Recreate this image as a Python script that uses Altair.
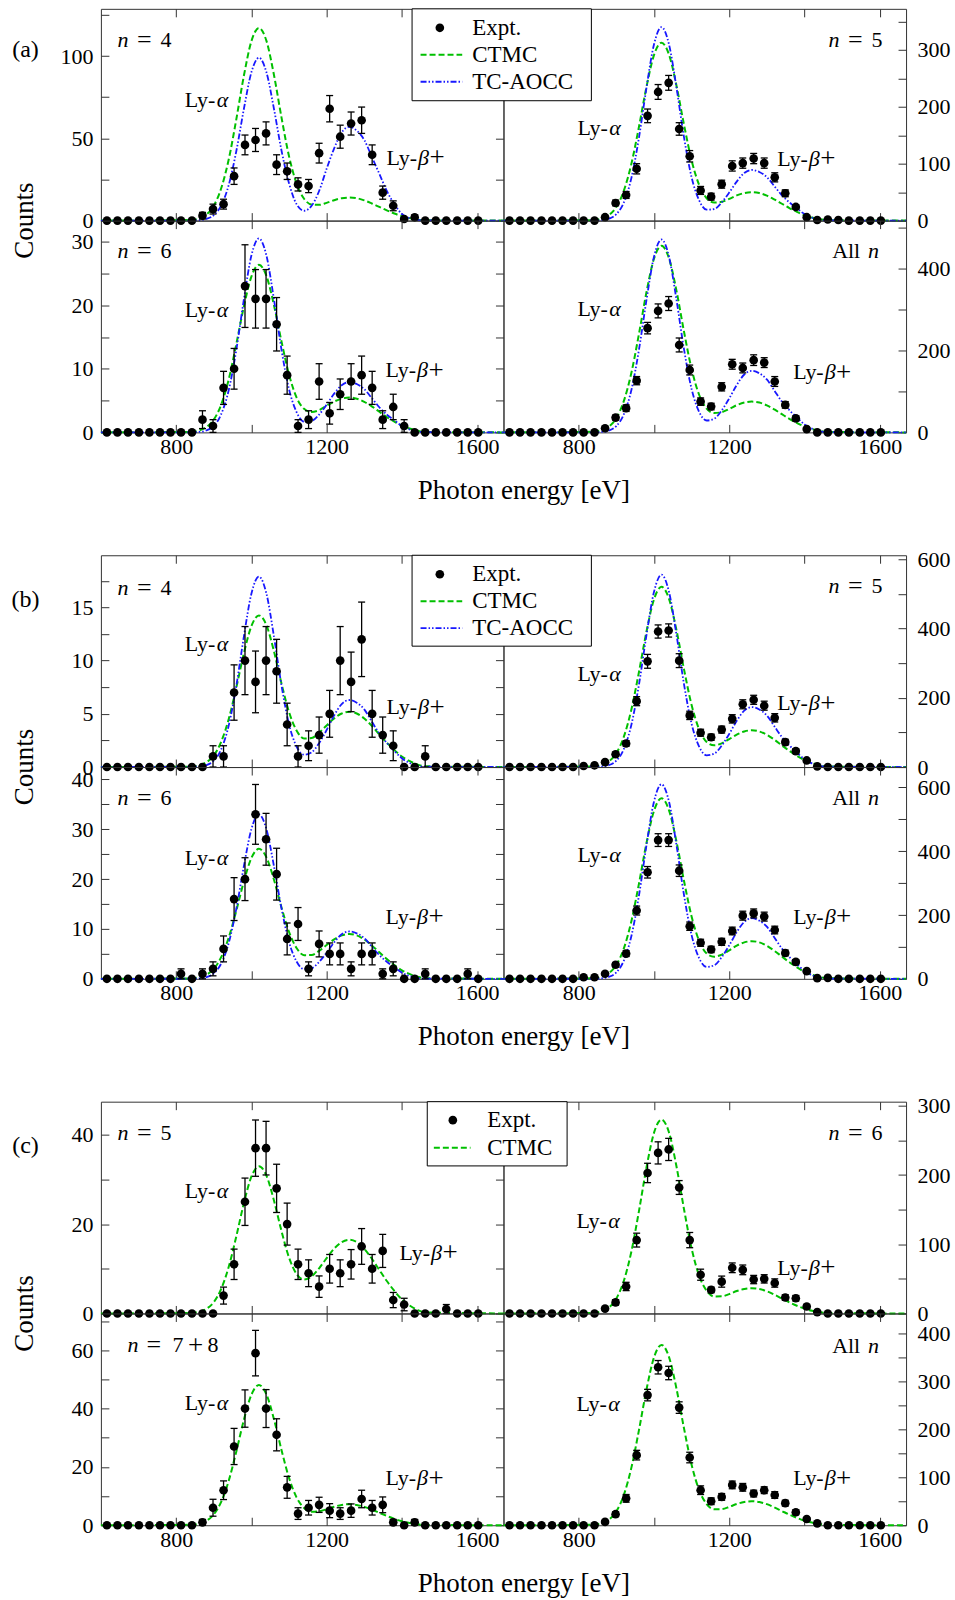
import altair as alt
import pandas as pd

FONT = "Liberation Serif"
GREEN = "#00c000"
BLUE = "#1818ff"
FRAME = "#333333"
W, H = 403, 212
X_DOMAIN = [600, 1670]
X_TICKS = [800, 1000, 1200, 1400, 1600]
X_LABELS = [800, 1200, 1600]

# bin centres of the measured spectra (eV)
E_BINS = [616, 644, 672, 701, 729, 757, 785, 813, 842, 870, 898, 926, 954, 983,
          1011, 1039, 1067, 1095, 1124, 1152, 1180, 1208, 1236, 1265, 1293, 1321,
          1349, 1377, 1406, 1434, 1462, 1490, 1518, 1547, 1575, 1603]

# energies at which the model spectra are tabulated (eV)
E_MODEL = [840, 860, 880, 900, 920, 940, 960, 980, 1000, 1020, 1040, 1060, 1080,
           1100, 1120, 1140, 1160, 1180, 1200, 1220, 1240, 1260, 1280, 1300, 1320,
           1340, 1360, 1380, 1400, 1420, 1440, 1460]

# ---------------- (a) ----------------
A_N4_EXPT = [0, 0, 0, 0, 0, 0, 0, 0, 0, 3, 7, 10, 27, 46, 49, 53, 34, 30, 22, 21, 41, 68,
             51, 59, 61, 40, 17, 9, 1, 2, 0, 0, 0, 0, 0, 0]
A_N4_ERR = [0, 0, 0, 0, 0, 0, 0, 0, 0, 2, 3, 3, 5, 6, 7, 7, 6, 5, 4, 4, 6, 8, 7, 7, 8, 6,
            4, 3, 1, 1.4, 0, 0, 0, 0, 0, 0]
A_N4_CTMC = [0.4, 1.3, 3.6, 9.0, 19.8, 37.4, 61.7, 88.0, 109.0, 117.1, 109.2, 88.5, 62.7,
             39.1, 22.6, 13.3, 9.8, 9.6, 10.8, 12.4, 13.6, 14.0, 13.6, 12.3, 10.4, 8.3,
             6.2, 4.3, 2.7, 1.5, 0.7, 0.2]
A_N4_AOCC = [0.05, 0.2, 1.0, 3.3, 9.3, 21.8, 42.3, 67.8, 90.1, 99, 90.1, 67.9, 42.6, 22.7,
             10, 6, 9, 18, 31.5, 43.9, 53.6, 57, 54.7, 49.0, 38.8, 28.5, 18, 10, 4, 1.5,
             0.5, 0.1]

A_N5_EXPT = [0, 0, 0, 0, 0, 0, 0, 0, 0, 6, 31, 45, 91, 184, 226, 242, 161, 113, 53, 42,
             64, 96, 101, 109, 101, 76, 48, 24, 6, 1, 2, 1, 0, 0, 0, 0]
A_N5_ERR = [0, 0, 0, 0, 0, 0, 0, 0, 0, 2, 5, 6, 9, 12, 13, 13, 11, 10, 7, 6, 7, 9, 9, 9,
            9, 8, 6, 4, 2, 1, 1, 1, 0, 0, 0, 0]
A_N5_CTMC = [0.9, 3.4, 9.7, 24.0, 52.7, 99.8, 164.4, 234.6, 290.7, 312.5, 291.5, 236.5,
             167.9, 105.9, 62.7, 39.3, 31.7, 33.0, 38.1, 44.2, 48.4, 50, 48.4, 43.9, 37.2,
             29.6, 22, 15.3, 9.5, 5.5, 2.5, 0.8]
A_N5_AOCC = [0.2, 0.8, 3.3, 11.2, 32.0, 74.8, 145.2, 232.9, 309.4, 340, 309.4, 233.0,
             145.7, 76.1, 35.6, 19.2, 20.3, 31.9, 49.2, 68.5, 83.7, 89, 85.4, 76.5, 60.5,
             44.5, 32.0, 21.4, 11.6, 5.3, 1.8, 0.4]

A_N6_EXPT = [0, 0, 0, 0, 0, 0, 0, 0, 0, 2, 1, 7, 10, 23, 21, 21, 17, 9, 1, 2, 8, 3, 6, 8,
             9, 7, 2, 4, 1, 0, 0, 0, 0, 0, 0, 0]
A_N6_ERR = [0, 0, 0, 0, 0, 0, 0, 0, 0, 1.4, 1, 2.6, 3.2, 6.5, 4.6, 4.6, 4.2, 3, 1, 1.4,
            2.8, 1.7, 2.4, 2.8, 3, 2.6, 1.4, 2, 1, 0, 0, 0, 0, 0, 0, 0]
A_N6_CTMC = [0.08, 0.29, 0.82, 2.0, 4.4, 8.4, 13.9, 19.8, 24.5, 26.35, 24.6, 20.0, 14.3,
             9.1, 5.5, 3.7, 3.2, 3.5, 4.2, 4.85, 5.3, 5.5, 5.3, 4.8, 4.1, 3.25, 2.4, 1.7,
             1.05, 0.6, 0.28, 0.08]
A_N6_AOCC = [0.02, 0.07, 0.3, 1.0, 2.9, 6.7, 13.0, 20.9, 27.8, 30.5, 27.8, 20.9, 13.0,
             6.8, 3.2, 1.7, 1.8, 2.8, 4.35, 6.1, 7.4, 7.9, 7.6, 6.8, 5.4, 3.95, 2.8, 1.9,
             1.0, 0.47, 0.16, 0.04]

A_ALL_EXPT = [0, 0, 0, 0, 0, 0, 0, 0, 0, 10, 36, 59, 126, 254, 296, 314, 213, 152, 75,
              63, 111, 166, 157, 176, 170, 124, 67, 34, 8, 0, 0, 0, 0, 0, 0, 0]
A_ALL_ERR = [0, 0, 0, 0, 0, 0, 0, 0, 0, 3, 6, 8, 10, 14, 17, 17, 17, 12, 9, 8, 10, 12,
             12, 13, 12, 12, 8, 6, 3, 0, 0, 0, 0, 0, 0, 0]
A_ALL_CTMC = [1.4, 5.0, 14.1, 35.0, 76.7, 145.3, 239.3, 341.4, 423.0, 454.7, 424.1, 344.2,
              244.6, 154.5, 91.7, 58.0, 47.1, 49.3, 57.2, 66.3, 72.6, 75, 72.6, 65.8,
              55.8, 44.3, 33, 23, 14.3, 8.3, 3.8, 1.1]
A_ALL_AOCC = [0.2, 1.1, 4.6, 15.5, 44.2, 103.4, 200.7, 322.0, 427.7, 470, 427.8, 322.2,
              201.5, 105.7, 50.2, 29.0, 33.2, 53.4, 82.7, 115.5, 141, 150, 144, 129, 102,
              75, 54, 36, 19.5, 9, 3, 0.75]

# ---------------- (b) ----------------
B_N4_EXPT = [0, 0, 0, 0, 0, 0, 0, 0, 0, 0, 1, 1, 7, 10, 8, 10, 9, 4, 1, 2, 3, 5, 10, 8,
             12, 5, 3, 2, 0, 0, 1, 0, 0, 0, 0, 0]
B_N4_ERR = [0, 0, 0, 0, 0, 0, 0, 0, 0, 0, 1, 1, 2.6, 3.2, 2.9, 3.2, 3, 2, 1, 1.4, 1.7,
            2.2, 3.2, 2.8, 3.5, 2.2, 1.7, 1.4, 0, 0, 1, 0, 0, 0, 0, 0]
B_N4_CTMC = [0.04, 0.16, 0.44, 1.09, 2.4, 4.54, 7.48, 10.68, 13.24, 14.25, 13.32, 10.87,
             7.84, 5.17, 3.44, 2.68, 2.73, 3.23, 3.91, 4.57, 5.03, 5.2, 5.03, 4.56, 3.87,
             3.07, 2.29, 1.59, 0.99, 0.57, 0.26, 0.08]
B_N4_AOCC = [0.01, 0.04, 0.18, 0.59, 1.68, 3.94, 7.64, 12.26, 16.29, 17.9, 16.29, 12.26,
             7.67, 4.03, 1.93, 1.16, 1.38, 2.24, 3.48, 4.85, 5.92, 6.3, 6.05, 5.42, 4.28,
             3.15, 2.27, 1.51, 0.82, 0.38, 0.13, 0.03]

B_N5_EXPT = [0, 0, 0, 0, 0, 0, 0, 3, 5, 14, 37, 68, 190, 305, 391, 394, 307, 149, 99, 86,
             108, 139, 181, 194, 177, 142, 72, 46, 19, 2, 0, 0, 0, 0, 0, 0]
B_N5_ERR = [0, 0, 0, 0, 0, 0, 0, 2, 2, 4, 6, 8, 13, 20, 19, 19, 20, 12, 10, 9, 10, 12,
            13, 13, 13, 12, 8, 7, 4, 1, 0, 0, 0, 0, 0, 0]
B_N5_CTMC = [1.6, 5.7, 16.1, 40.0, 87.7, 166.1, 273.5, 390.3, 483.6, 520, 485.2, 394.2,
             280.9, 179.0, 108.9, 72.4, 62.7, 68.3, 80.5, 93.5, 102.6, 106, 102.6, 93.0,
             78.9, 62.6, 46.6, 32.4, 20.1, 11.7, 5.3, 1.6]
B_N5_AOCC = [0.3, 1.3, 5.4, 18.3, 52.2, 122.1, 237.0, 380.2, 505.1, 555, 505.2, 380.4,
             237.9, 124.7, 59.1, 33.9, 38.5, 61.7, 95.5, 133.2, 162.6, 173, 166.1, 148.8,
             117.6, 86.5, 62.3, 41.5, 22.5, 10.4, 3.5, 0.9]

B_N6_EXPT = [0, 0, 0, 0, 0, 0, 0, 1, 0, 1, 2, 6, 16, 20, 33, 28, 21, 8, 11, 2, 7, 5, 5, 2,
             5, 5, 1, 2, 0, 0, 1, 0, 0, 0, 1, 0]
B_N6_ERR = [0, 0, 0, 0, 0, 0, 0, 1, 0, 1, 1.4, 2.6, 4.3, 4.3, 6, 5.2, 5.2, 3.2, 3.3, 1.4,
            2.6, 2.2, 2.2, 1.4, 2.2, 2.2, 1, 1.4, 0, 0, 1, 0, 0, 0, 1, 0]
B_N6_CTMC = [0.08, 0.29, 0.81, 2.0, 4.39, 8.32, 13.7, 19.55, 24.24, 26.08, 24.37, 19.88,
             14.33, 9.42, 6.19, 4.75, 4.77, 5.61, 6.78, 7.92, 8.71, 9, 8.71, 7.89, 6.7,
             5.32, 3.96, 2.75, 1.71, 0.99, 0.45, 0.14]
B_N6_AOCC = [0.02, 0.08, 0.32, 1.09, 3.1, 7.26, 14.09, 22.6, 30.03, 33, 30.03, 22.6,
             14.14, 7.4, 3.48, 1.95, 2.13, 3.4, 5.25, 7.32, 8.93, 9.5, 9.12, 8.17, 6.46,
             4.75, 3.42, 2.28, 1.24, 0.57, 0.19, 0.05]

B_ALL_EXPT = [0, 0, 0, 0, 0, 0, 0, 5, 5, 16, 44, 79, 214, 334, 435, 435, 339, 165, 113,
              92, 116, 150, 198, 205, 195, 153, 81, 53, 24, 2, 3, 0, 0, 0, 0, 0]
B_ALL_ERR = [0, 0, 0, 0, 0, 0, 0, 2, 2, 4, 7, 9, 14, 18, 20, 20, 18, 13, 11, 10, 11, 12,
             14, 14, 14, 12, 9, 7, 5, 1, 2, 0, 0, 0, 0, 0]
B_ALL_CTMC = [1.7, 6.2, 17.5, 43.5, 95.5, 180.8, 297.8, 424.9, 526.5, 566.1, 528.2, 429.3,
              306.1, 195.2, 119.1, 79.6, 69.4, 75.9, 89.5, 104.1, 114.2, 118, 114.2,
              103.5, 87.8, 69.7, 51.9, 36.1, 22.4, 13.0, 5.9, 1.8]
B_ALL_AOCC = [0.3, 1.5, 6.0, 20.1, 57.3, 134.2, 260.5, 417.9, 555.1, 610, 555.2, 418.1,
              261.5, 137.1, 64.9, 37.2, 42.2, 67.7, 104.8, 146.3, 178.6, 190, 182.4,
              163.4, 129.2, 95, 68.4, 45.6, 24.7, 11.4, 3.8, 0.95]

# ---------------- (c) ----------------
C_N5_EXPT = [0, 0, 0, 0, 0, 0, 0, 0, 0, 0, 0, 4, 11, 25, 37, 37, 28, 20, 11, 9, 6, 10, 9,
             11, 15, 10, 14, 3, 2, 0, 0, 0, 1, 0, 0, 0]
C_N5_ERR = [0, 0, 0, 0, 0, 0, 0, 0, 0, 0, 0, 1.9, 3.4, 5.3, 6.3, 6, 5.4, 4.7, 3.4, 3,
            2.4, 3.2, 3, 3.3, 4, 3.2, 3.7, 1.7, 1.4, 0, 0, 0, 1, 0, 0, 0]
C_N5_CTMC = [0.1, 0.36, 1.02, 2.53, 5.54, 10.5, 17.29, 24.67, 30.61, 32.95, 30.85, 25.28,
             18.45, 12.51, 8.84, 7.58, 8.28, 10.11, 12.38, 14.5, 15.97, 16.5, 15.97,
             14.47, 12.28, 9.75, 7.26, 5.05, 3.14, 1.82, 0.83, 0.25]

C_N6_EXPT = [0, 0, 0, 0, 0, 0, 0, 0, 0, 7, 16, 39, 106, 203, 232, 237, 182, 106, 56, 34,
             46, 66, 63, 49, 50, 44, 23, 22, 10, 2, 0, 0, 0, 0, 0, 0]
C_N6_ERR = [0, 0, 0, 0, 0, 0, 0, 0, 0, 2, 4, 6, 10, 14, 16, 16, 10, 11, 8, 4, 8, 7, 7, 6,
            6, 6, 4, 4, 3, 1, 0, 0, 0, 0, 0, 0]
C_N6_CTMC = [0.8, 3.1, 8.5, 21.6, 47.3, 89.6, 147.6, 210.6, 260.9, 280.3, 261.4, 212.0,
             150.2, 94.1, 54.6, 32.8, 24.6, 24.7, 28.0, 32.4, 35.4, 36.6, 35.4, 32.1,
             27.2, 21.6, 16.1, 11.2, 7.0, 4.0, 1.8, 0.55]

C_N78_EXPT = [0, 0, 0, 0, 0, 0, 0, 0, 0, 1, 6, 12, 27, 40, 59, 40, 31, 13, 4, 6, 7, 5, 4,
              5, 9, 6, 7, 1, 0, 1, 0, 0, 0, 0, 0, 0]
C_N78_ERR = [0, 0, 0, 0, 0, 0, 0, 0, 0, 1, 2.9, 3.2, 6.2, 6.4, 7.8, 6.5, 5.5, 3.75, 2,
             2.5, 2.6, 2.4, 2, 2.3, 3, 2.5, 2.7, 1, 0, 1, 0, 0, 0, 0, 0, 0]
C_N78_CTMC = [0.14, 0.53, 1.49, 3.7, 8.11, 15.36, 25.3, 36.1, 44.72, 48.06, 44.83, 36.37,
              25.8, 16.24, 9.55, 5.9, 4.66, 4.79, 5.5, 6.36, 6.97, 7.2, 6.97, 6.31,
              5.36, 4.26, 3.17, 2.2, 1.37, 0.79, 0.36, 0.11]

C_ALL_EXPT = [0, 0, 0, 0, 0, 0, 0, 0, 0, 7, 23, 56, 146, 271, 329, 317, 245, 141, 73,
              50, 59, 84, 79, 66, 73, 63, 46, 27, 13, 4, 0, 0, 0, 0, 0, 0]
C_ALL_ERR = [0, 0, 0, 0, 0, 0, 0, 0, 0, 2, 5, 8, 10, 12, 14, 14, 12, 11, 9, 7, 7, 8, 8,
             7, 7, 7, 6, 5, 3, 2, 0, 0, 0, 0, 0, 0]
C_ALL_CTMC = [1.1, 4.1, 11.4, 28.9, 63.4, 120, 197.6, 282, 349.3, 375.5, 350.1, 283.9,
              201.1, 126.1, 73.4, 44.2, 33.4, 33.7, 38.3, 44.3, 48.4, 50, 48.4, 43.9,
              37.2, 29.6, 22, 15.3, 9.5, 5.5, 2.5, 0.75]

ONE = pd.DataFrame({"k": [0]})


def text(x, y, s, italic=False, size=22, align="left", angle=None):
    props = dict(text=s, font=FONT, fontSize=size, align=align,
                 baseline="middle", color="black")
    if italic:
        props["fontStyle"] = "italic"
    if angle is not None:
        props["angle"] = angle
    return alt.Chart(ONE).mark_text(**props).encode(x=alt.value(x), y=alt.value(y))


def ly_alpha(x, y):
    return [text(x, y, "Ly-"), text(x + 32, y, "α", italic=True)]


def ly_beta(x, y):
    return [text(x, y, "Ly-"), text(x + 31.5, y, "β", italic=True),
            text(x + 43, y + 0.5, "+", size=27)]


def n_eq(x, y, k):
    return [text(x, y, "n", italic=True), text(x + 19.5, y, "=", size=26),
            text(x + 43, y, k)]


def n_78(x, y):
    return [text(x, y, "n", italic=True), text(x + 19, y, "=", size=26),
            text(x + 45, y, "7"), text(x + 60.5, y + 0.5, "+", size=27),
            text(x + 80, y, "8")]


def all_n(y):
    return [text(329, y, "All"), text(365, y, "n", italic=True)]


def legend(x1, x2, y2, xdot, xl1, xl2, xt, rows):
    out = [alt.Chart(ONE).mark_rect(fill="white", stroke="black", strokeWidth=1).encode(
        x=alt.value(x1), x2=alt.value(x2), y=alt.value(0), y2=alt.value(y2))]
    for kind, y, label in rows:
        if kind == "dot":
            out.append(alt.Chart(ONE).mark_circle(color="black", size=75, opacity=1).encode(
                x=alt.value(xdot), y=alt.value(y)))
        elif kind == "ctmc":
            out.append(alt.Chart(ONE).mark_rule(color=GREEN, strokeWidth=2,
                                               strokeDash=[6, 3]).encode(
                x=alt.value(xl1), x2=alt.value(xl2), y=alt.value(y)))
        else:
            out.append(alt.Chart(ONE).mark_rule(color=BLUE, strokeWidth=1.8,
                                               strokeDash=[6, 2, 1.5, 2, 1.5, 2]).encode(
                x=alt.value(xl1), x2=alt.value(xl2), y=alt.value(y)))
        out.append(text(xt, y, label, size=23))
    return out


def tick_axis(orient, values, offset):
    # inward-pointing ticks: an axis on the opposite edge shifted across the panel
    return alt.Axis(orient=orient, values=values, offset=offset, labels=False,
                    domain=False, grid=False, ticks=True, tickSize=8, tickWidth=1,
                    tickColor=FRAME, title=None)


def panel(expt, err, ctmc, aocc, ymax, yticks, ylabels, side, bottom, extras):
    xs = alt.Scale(domain=X_DOMAIN, nice=False, zero=False)
    ys = alt.Scale(domain=[0, ymax], nice=False, zero=False)

    x_lab = (alt.Axis(orient="bottom", values=X_LABELS, ticks=False, tickSize=0,
                      domain=False, grid=False, labelPadding=4, format="d", title=None)
             if bottom else None)
    y_lab = alt.Axis(orient=side, values=ylabels, ticks=False, tickSize=0, domain=False,
                     grid=False, labelPadding=8 if side == "left" else 11,
                     format="d", title=None)

    layers = []
    ctmc_df = pd.DataFrame({"E": [X_DOMAIN[0]] + E_MODEL + [X_DOMAIN[1]],
                            "v": [0] + ctmc + [0]})
    layers.append(alt.Chart(ctmc_df).mark_line(
        color=GREEN, strokeWidth=2, strokeDash=[6, 3], interpolate="monotone").encode(
        x=alt.X("E:Q", scale=xs, axis=x_lab),
        y=alt.Y("v:Q", scale=ys, axis=y_lab)))
    if aocc is not None:
        aocc_df = pd.DataFrame({"E": [X_DOMAIN[0]] + E_MODEL + [X_DOMAIN[1]],
                                "v": [0] + aocc + [0]})
        layers.append(alt.Chart(aocc_df).mark_line(
            color=BLUE, strokeWidth=1.8, strokeDash=[6, 2, 1.5, 2, 1.5, 2],
            interpolate="monotone").encode(
            x=alt.X("E:Q", scale=xs, axis=None),
            y=alt.Y("v:Q", scale=ys, axis=None)))

    pts = pd.DataFrame({"E": E_BINS, "c": expt, "err": err})
    bars = alt.Chart(pts).transform_filter("datum.err > 0").transform_calculate(
        lo="datum.c - datum.err", hi="datum.c + datum.err")
    layers.append(bars.mark_rule(color="black", strokeWidth=1.3).encode(
        x=alt.X("E:Q", scale=xs, axis=tick_axis("bottom", X_TICKS, -H)),
        y=alt.Y("lo:Q", scale=ys, axis=tick_axis("left", yticks, -W)),
        y2="hi:Q"))
    layers.append(bars.mark_rule(color="black", strokeWidth=1.3,
                                 xOffset=-3.5, x2Offset=3.5).encode(
        x=alt.X("E:Q", scale=xs, axis=tick_axis("top", X_TICKS, -H)),
        x2="E:Q",
        y=alt.Y("lo:Q", scale=ys,
                axis=tick_axis("right", yticks, -W) if side == "left" else None)))
    layers.append(bars.mark_rule(color="black", strokeWidth=1.3,
                                 xOffset=-3.5, x2Offset=3.5).encode(
        x=alt.X("E:Q", scale=xs, axis=None), x2="E:Q",
        y=alt.Y("hi:Q", scale=ys, axis=None)))
    layers.append(alt.Chart(pts).mark_circle(color="black", size=75, opacity=1).encode(
        x=alt.X("E:Q", scale=xs, axis=None),
        y=alt.Y("c:Q", scale=ys, axis=None)))
    layers.extend(extras)
    return alt.layer(*layers).resolve_axis(x="independent", y="independent").properties(
        width=W, height=H)


def spacer(h):
    # empty, frameless cell that separates the three groups of panels
    return alt.Chart(ONE).mark_point(opacity=0).encode(
        x=alt.value(0), y=alt.value(0)).properties(
        width=W, height=h, view=alt.ViewBackground(strokeOpacity=0, strokeWidth=0))


LEG3 = [("dot", 19, "Expt."), ("ctmc", 46, "CTMC"), ("aocc", 73, "TC-AOCC")]
LEG2 = [("dot", 18.5, "Expt."), ("ctmc", 46, "CTMC")]


def counts_title():
    return text(-75.5, 0, "Counts", size=27, align="center", angle=270)


def energy_title():
    return text(20.4, H + 58.7, "Photon energy [eV]", size=27, align="center")


# ---- group (a)
a_ul = panel(A_N4_EXPT, A_N4_ERR, A_N4_CTMC, A_N4_AOCC, 128.7,
             [0, 25, 50, 75, 100, 125], [0, 50, 100], "left", False,
             [text(-75.5, 41, "(a)", size=24, align="center")]
             + n_eq(16.7, 31, "4") + ly_alpha(84, 91) + ly_beta(286, 149))
a_ur = panel(A_N5_EXPT, A_N5_ERR, A_N5_CTMC, A_N5_AOCC, 372,
             [0, 50, 100, 150, 200, 250, 300, 350], [0, 100, 200, 300], "right", False,
             n_eq(325.3, 31, "5") + ly_alpha(74, 119) + ly_beta(274, 150)
             + legend(-91.5, 88, 92, -63.7, -83, -41.3, -31.3, LEG3))
a_ll = panel(A_N6_EXPT, A_N6_ERR, A_N6_CTMC, A_N6_AOCC, 33.3,
             [0, 5, 10, 15, 20, 25, 30], [0, 10, 20, 30], "left", True,
             [counts_title()] + n_eq(16.7, 30, "6") + ly_alpha(84, 89) + ly_beta(285, 150))
a_lr = panel(A_ALL_EXPT, A_ALL_ERR, A_ALL_CTMC, A_ALL_AOCC, 516,
             [0, 100, 200, 300, 400, 500], [0, 200, 400], "right", True,
             [energy_title()] + all_n(30) + ly_alpha(74, 88) + ly_beta(290, 152))

# ---- group (b)
b_ul = panel(B_N4_EXPT, B_N4_ERR, B_N4_CTMC, B_N4_AOCC, 19.9,
             [0, 2.5, 5, 7.5, 10, 12.5, 15, 17.5], [0, 5, 10, 15], "left", False,
             [text(-75.5, 45, "(b)", size=24, align="center")]
             + n_eq(16.7, 33, "4") + ly_alpha(84, 89) + ly_beta(286, 152))
b_ur = panel(B_N5_EXPT, B_N5_ERR, B_N5_CTMC, B_N5_AOCC, 611,
             [0, 100, 200, 300, 400, 500, 600], [0, 200, 400, 600], "right", False,
             n_eq(325.3, 31, "5") + ly_alpha(74, 119) + ly_beta(274, 148)
             + legend(-91.5, 88, 91, -63.7, -83, -41.3, -31.3, LEG3))
b_ll = panel(B_N6_EXPT, B_N6_ERR, B_N6_CTMC, B_N6_AOCC, 42.5,
             [0, 5, 10, 15, 20, 25, 30, 35, 40], [0, 10, 20, 30, 40], "left", True,
             [counts_title()] + n_eq(16.7, 31, "6") + ly_alpha(84, 91) + ly_beta(285, 150))
b_lr = panel(B_ALL_EXPT, B_ALL_ERR, B_ALL_CTMC, B_ALL_AOCC, 664,
             [0, 100, 200, 300, 400, 500, 600], [0, 200, 400, 600], "right", True,
             [energy_title()] + all_n(31) + ly_alpha(74, 88) + ly_beta(290, 150))

# ---- group (c)
c_ul = panel(C_N5_EXPT, C_N5_ERR, C_N5_CTMC, None, 47.4,
             [0, 10, 20, 30, 40], [0, 20, 40], "left", False,
             [text(-75.5, 44, "(c)", size=24, align="center")]
             + n_eq(16.7, 31, "5") + ly_alpha(84, 89) + ly_beta(299, 151))
c_ur = panel(C_N6_EXPT, C_N6_ERR, C_N6_CTMC, None, 306,
             [0, 50, 100, 150, 200, 250, 300], [0, 100, 200, 300], "right", False,
             n_eq(325.3, 31, "6") + ly_alpha(73, 119) + ly_beta(274, 166)
             + legend(-76.3, 63.7, 64.3, -50.7, -69.7, -33, -16.3, LEG2))
c_ll = panel(C_N78_EXPT, C_N78_ERR, C_N78_CTMC, None, 72.6,
             [0, 10, 20, 30, 40, 50, 60, 70], [0, 20, 40, 60], "left", True,
             [counts_title()] + n_78(26.7, 32) + ly_alpha(84, 90) + ly_beta(285, 165))
c_lr = panel(C_ALL_EXPT, C_ALL_ERR, C_ALL_CTMC, None, 441,
             [0, 50, 100, 150, 200, 250, 300, 350, 400], [0, 100, 200, 300, 400],
             "right", True,
             [energy_title()] + all_n(33) + ly_alpha(73, 91) + ly_beta(290, 165))

chart = alt.concat(
    a_ul, a_ur, a_ll, a_lr,
    spacer(123), spacer(123),
    b_ul, b_ur, b_ll, b_lr,
    spacer(122.5), spacer(122.5),
    c_ul, c_ur, c_ll, c_lr,
    columns=2, spacing=0, bounds="flush",
).properties(
    padding={"left": 11, "top": 7, "right": 4, "bottom": 2},
    background="white",
).configure_view(
    stroke=FRAME, strokeWidth=1,
).configure_axis(
    labelFont=FONT, labelFontSize=22, labelColor="black",
)

chart.save("out.html", embed_options={"renderer": "svg", "actions": False})
